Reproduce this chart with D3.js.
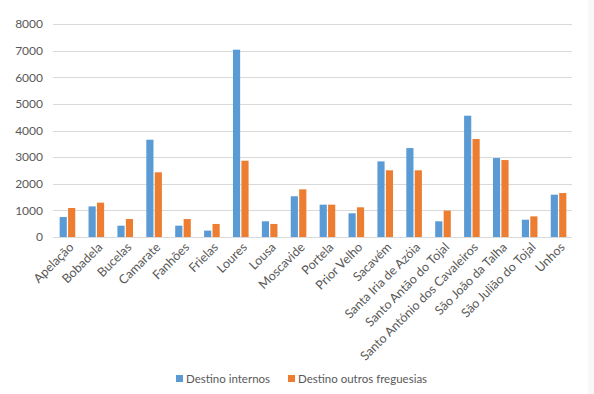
<!DOCTYPE html>
<html>
<head>
<meta charset="utf-8">
<script src="https://cdn.jsdelivr.net/npm/d3@7"></script>
<style>
  body { margin: 0; background: #ffffff; }
  svg text { font-family: Lato, "Open Sans", sans-serif; fill: #595959; }
</style>
</head>
<body>
<svg id="chart" width="594" height="394"></svg>
<script>
// Data
const categories = ["Apelação", "Bobadela", "Bucelas", "Camarate", "Fanhões", "Frielas", "Loures", "Lousa",
  "Moscavide", "Portela", "Prior Velho", "Sacavém", "Santa Iria de Azóia", "Santo Antão do Tojal",
  "Santo António dos Cavaleiros", "São João da Talha", "São Julião do Tojal", "Unhos"];
const internos = [750, 1150, 425, 3655, 425, 240, 7035, 590, 1530, 1215, 890, 2840, 3340, 590, 4555, 2965, 650, 1590];
const outros = [1090, 1290, 675, 2430, 675, 490, 2865, 490, 1790, 1215, 1115, 2505, 2505, 990, 3680, 2890, 775, 1650];
const seriesNames = ["Destino internos", "Destino outros freguesias"];
const seriesColors = ["#5b9bd5", "#ed7d31"];
const yTicks = [0, 1000, 2000, 3000, 4000, 5000, 6000, 7000, 8000];

const margin = { top: 24, left: 53, right: 21, bottom: 157 };
const width = 594, height = 394;

const svg = d3.select("#chart");

// faint edge strip on the right of the original screenshot
svg.append("rect")
  .attr("x", 588).attr("y", 0).attr("width", 6).attr("height", height)
  .style("fill", "#f8f8f8");

const x = d3.scaleBand().domain(categories).range([margin.left, width - margin.right]).paddingInner(0.46).paddingOuter(0.23);
const xSub = d3.scaleBand().domain([0, 1]).range([0, x.bandwidth()]).paddingInner(0.15);
const y = d3.scaleLinear().domain([0, 8000]).range([height - margin.bottom, margin.top]);

// Gridlines
svg.append("g")
  .selectAll("line")
  .data(yTicks)
  .join("line")
  .attr("x1", margin.left)
  .attr("x2", width - margin.right - 1)
  .attr("y1", d => Math.round(y(d)) + 0.5)
  .attr("y2", d => Math.round(y(d)) + 0.5)
  .style("stroke", "#d9d9d9")
  .style("stroke-width", 1);

// Y axis labels
const yAxis = svg.append("g")
  .attr("transform", `translate(${margin.left - 10},0)`)
  .call(d3.axisLeft(y).tickValues(yTicks).tickFormat(d3.format("d")).tickSize(0).tickPadding(0));
yAxis.select(".domain").remove();
yAxis.selectAll("text").style("font-size", "12px").style("fill", "#595959");

// Bars
const groups = svg.append("g")
  .selectAll("g")
  .data(categories)
  .join("g")
  .attr("transform", d => `translate(${x(d)},0)`);

[internos, outros].forEach((values, s) => {
  groups.append("rect")
    .attr("x", xSub(s))
    .attr("width", xSub.bandwidth())
    .attr("y", (d, i) => y(values[i]))
    .attr("height", (d, i) => y(0) - y(values[i]))
    .style("fill", seriesColors[s]);
});

// X axis labels (rotated)
const xAxis = svg.append("g")
  .attr("transform", `translate(0,${y(0)})`)
  .call(d3.axisBottom(x).tickSize(0).tickPadding(0));
xAxis.select(".domain").remove();
xAxis.selectAll("text")
  .style("font-size", "12.5px")
  .style("fill", "#595959")
  .style("text-anchor", "end")
  .attr("dy", null)
  .attr("transform", "translate(7,11) rotate(-45)");

// Legend
const legend = svg.append("g").attr("transform", "translate(176,375)");
const legendX = [0, 112];
seriesNames.forEach((name, i) => {
  const item = legend.append("g").attr("transform", `translate(${legendX[i]},0)`);
  item.append("rect").attr("width", 7).attr("height", 7).style("fill", seriesColors[i]);
  item.append("text").attr("x", 10).attr("y", 8).style("font-size", "11.5px").text(name);
});
</script>
</body>
</html>
